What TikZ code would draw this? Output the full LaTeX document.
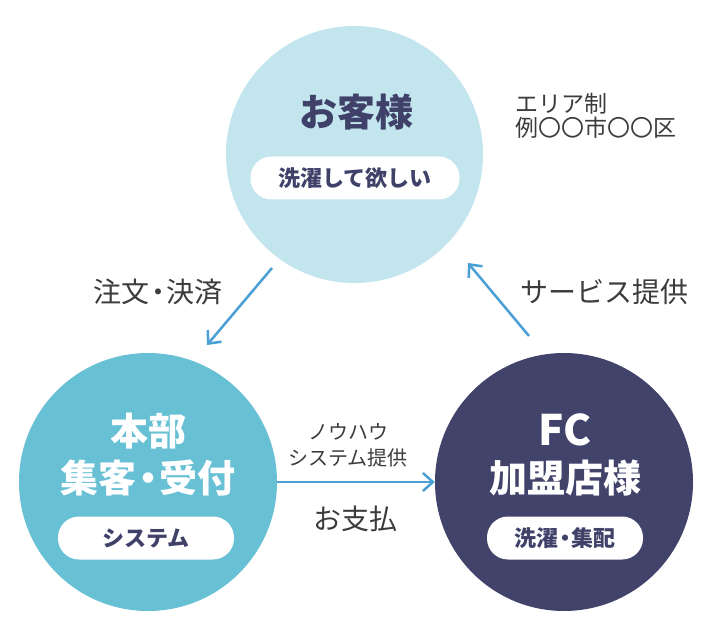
\documentclass[tikz,border=0pt]{standalone}
\usepackage{fontspec}
\setmainfont{Noto Sans CJK JP}
\usetikzlibrary{arrows.meta}
\definecolor{lightc}{HTML}{C3E5EE}
\definecolor{midc}{HTML}{68C0D5}
\definecolor{navyc}{HTML}{41436B}
\definecolor{titc}{HTML}{3F4169}
\definecolor{labc}{HTML}{3C3C3C}
\definecolor{arrc}{HTML}{4A9FD4}
\newcommand{\fs}[2]{\fontsize{#1}{#2}\selectfont}
\newcommand{\ndot}{\makebox[0.6em][c]{・}}
\tikzset{
  bigcirc/.style={circle, inner sep=0pt, minimum size=258pt},
  pill/.style={fill=white, rounded corners=21pt, minimum height=43pt, inner sep=0pt, text=titc, font=\fs{22}{24}\bfseries},
  title/.style={align=center, inner sep=0pt, font=\fs{38}{47}\bfseries},
  lab/.style={align=center, inner sep=0pt, text=labc},
  arr/.style={draw=arrc, line width=2.5pt, -{Straight Barb[length=10pt,width=18pt,line width=2.5pt]}}
}
\begin{document}
\begin{tikzpicture}[x=1pt,y=-1pt]
\useasboundingbox (0,0) rectangle (710,636);
\fill[white] (0,0) rectangle (710,636);
% circles
\node[bigcirc, fill=lightc, minimum size=257pt] (cust) at (354.5,154.5) {};
\node[bigcirc, fill=midc] (hq) at (148,482) {};
\node[bigcirc, fill=navyc] (fc) at (564,482) {};
% customer
\node[title, text=titc] (custt) at (356,112) {お客様};
\node[pill, minimum width=209pt] (custp) at (355,178) {洗濯して欲しい};
% HQ
\node[title, text=white] (hqt) at (148,455) {本部\\集客\ndot 受付};
\node[pill, minimum width=176pt] (hqp) at (146,538) {システム};
% FC
\node[title, text=white] (fct) at (565,455) {{\fs{42}{47}FC}\\加盟店様};
\node[pill, minimum width=156pt] (fcp) at (565,538) {洗濯\ndot 集配};
% labels
\node[lab, align=left, anchor=west, font=\fs{23}{24}] (area) at (515,116) {エリア制\\例〇〇市〇〇区};
\node[lab, font=\fs{28}{30}] (order) at (158,292) {注文\ndot 決済};
\node[lab, font=\fs{28}{30}] (serv) at (604,292) {サービス提供};
\node[lab, font=\fs{20}{26}] (know) at (348,445) {ノウハウ\\システム提供};
\node[lab, font=\fs{28}{30}] (pay) at (355,519) {お支払};
% arrows
\coordinate (a1s) at (272,268);
\coordinate (a1e) at (207,345);
\coordinate (a2s) at (529,336);
\coordinate (a2e) at (468,263);
\draw[arr] (a1s) -- (a1e);
\draw[arr] (a2s) -- (a2e);
\draw[arr] (hq.east) -- (fc.west);
\end{tikzpicture}
\end{document}
